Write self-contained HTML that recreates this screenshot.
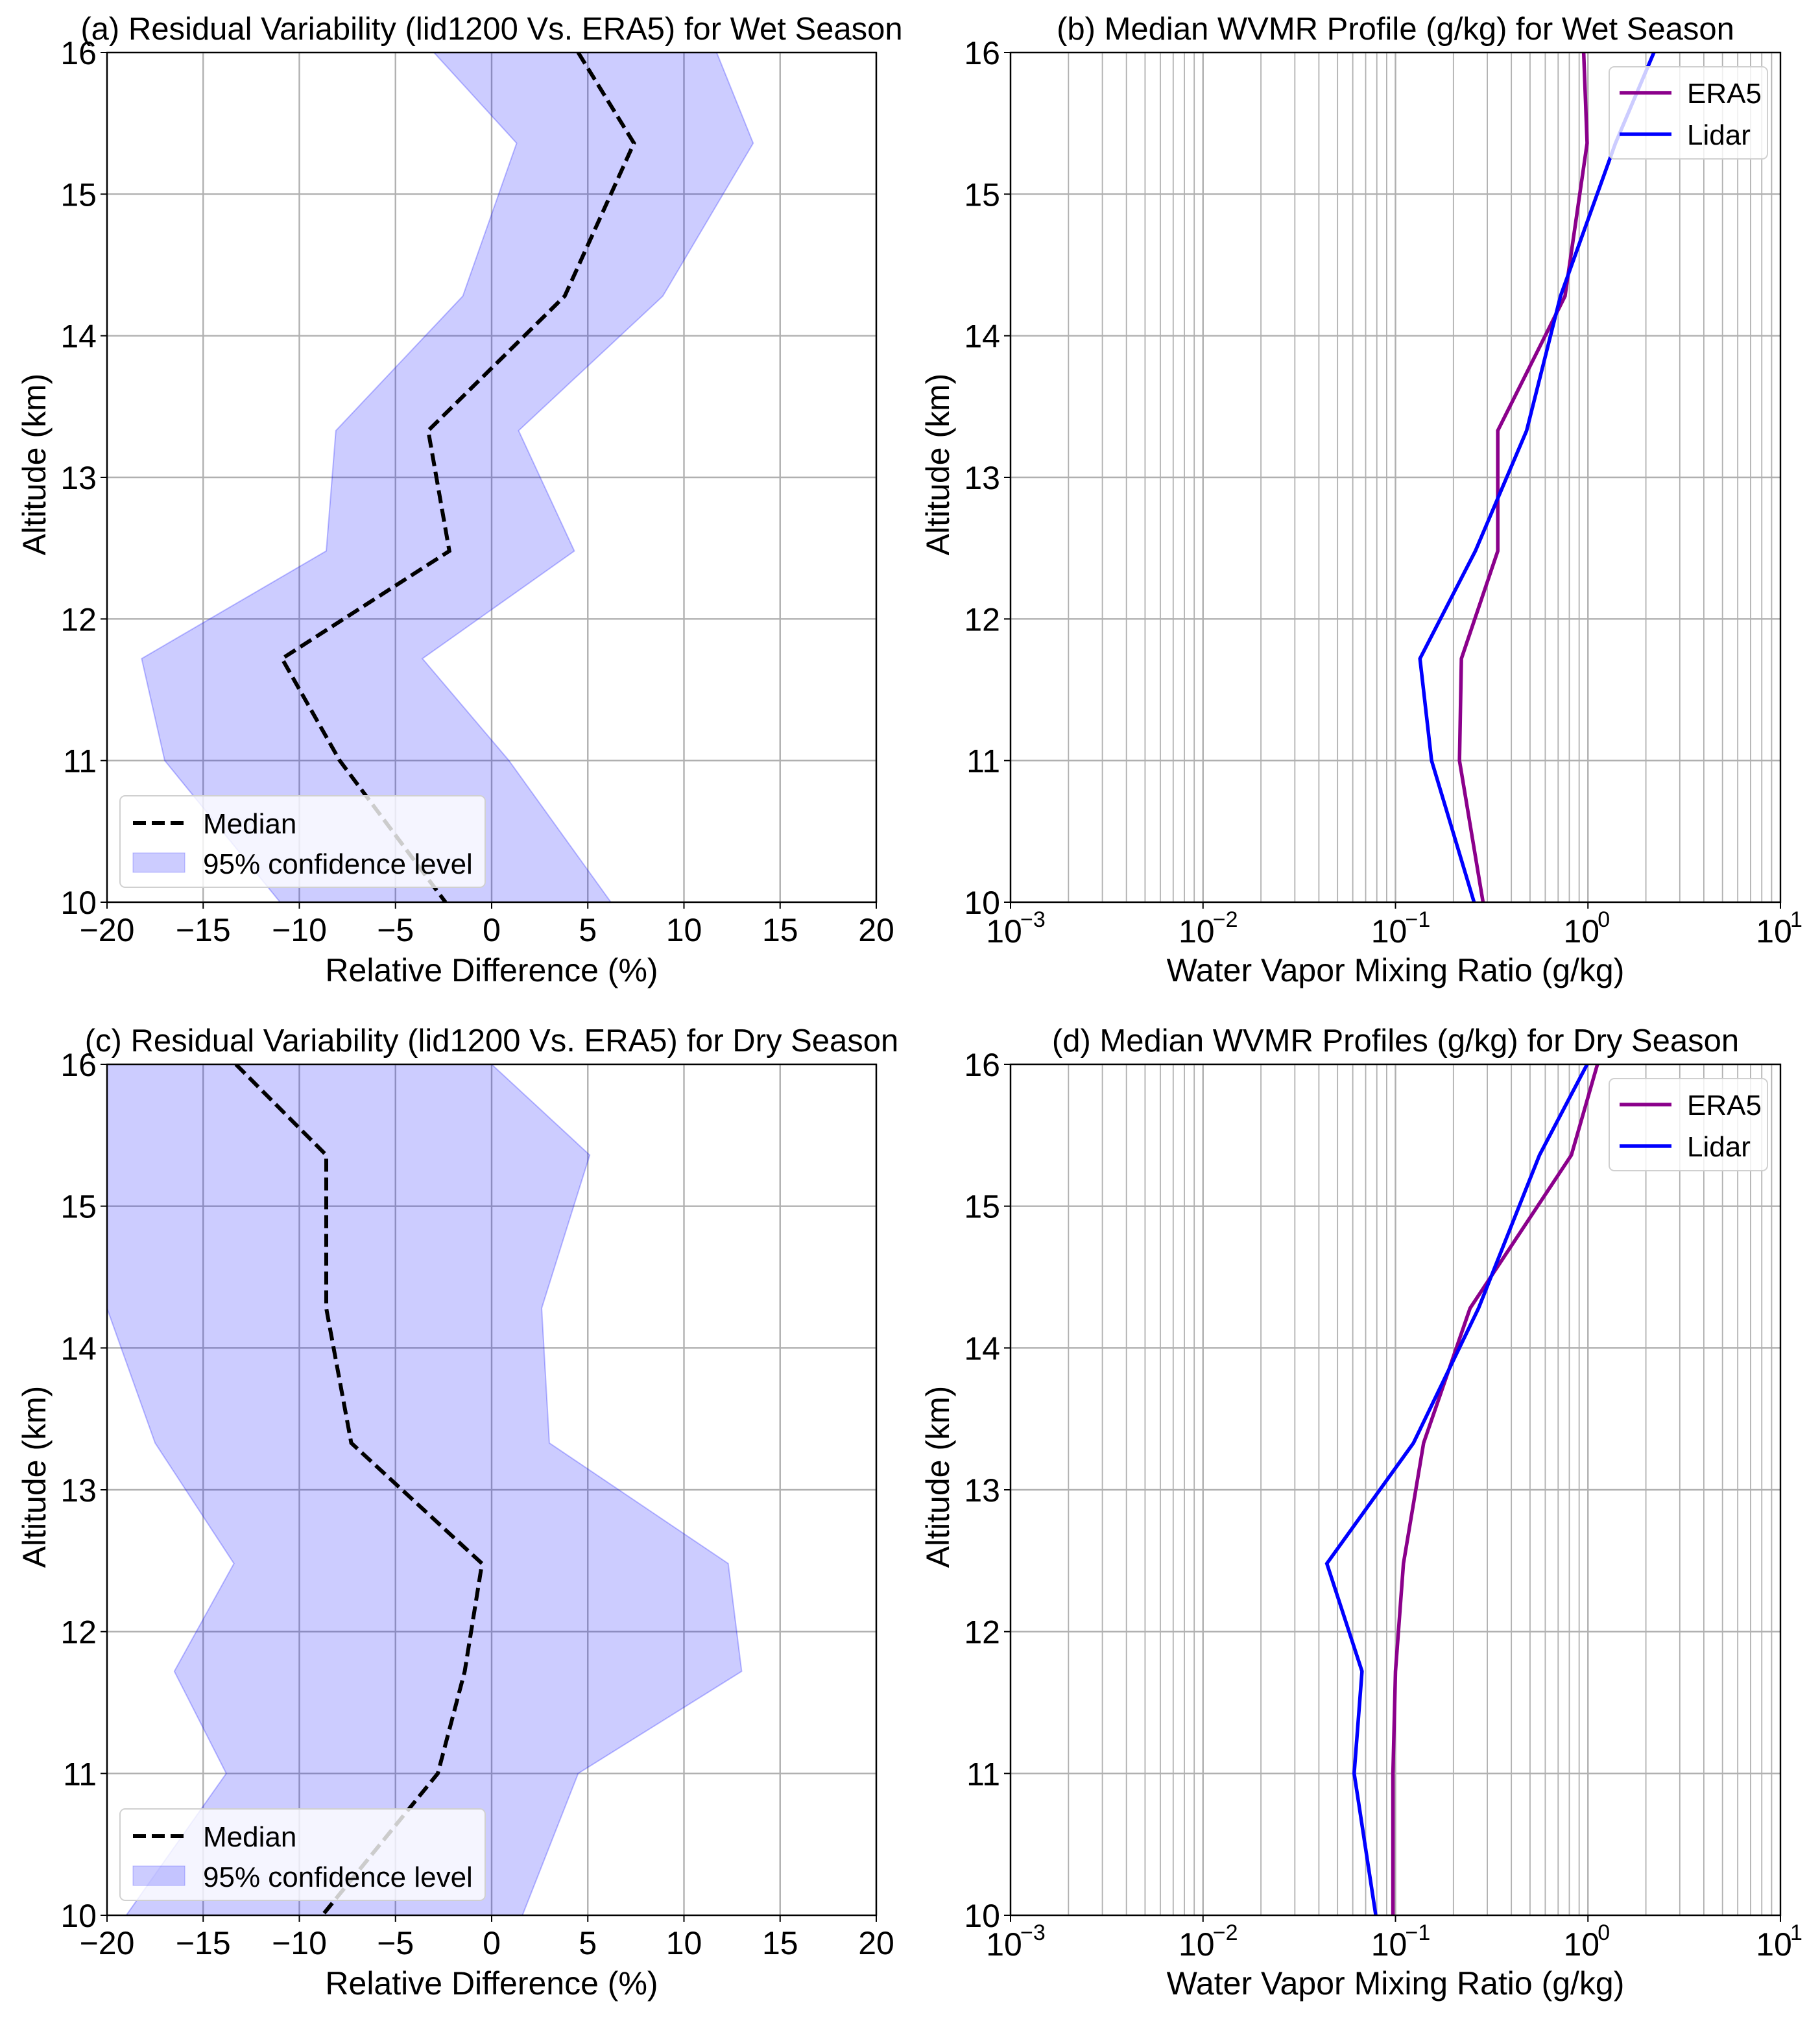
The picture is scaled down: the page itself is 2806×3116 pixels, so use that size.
<!DOCTYPE html>
<html><head><meta charset="utf-8">
<style>
html,body{margin:0;padding:0;background:#fff;}
svg{display:block;font-family:"Liberation Sans","DejaVu Sans",sans-serif;}
</style></head>
<body>
<svg id="fig" width="2806" height="3116" viewBox="0 0 2806 3116" xmlns="http://www.w3.org/2000/svg"></svg>
<script>
// Altitude levels (km)
const altA = [16, 15.36, 14.28, 13.33, 12.48, 11.72, 11.0, 10];
// Panel (a) wet season residual variability (%)
const medA = [4.5, 7.4, 3.8, -3.3, -2.2, -10.9, -7.9, -2.4];
const lowA = [-3.0, 1.3, -1.5, -8.1, -8.6, -18.2, -17.0, -11.0];
const upA  = [11.7, 13.6, 8.9, 1.4, 4.3, -3.6, 0.9, 6.2];
// Panel (c) dry season residual variability (%)
const medC = [-13.3, -8.6, -8.6, -7.3, -0.5, -1.4, -2.8, -8.8];
const lowC = [-20, -20, -20, -17.5, -13.4, -16.5, -13.8, -19.0];
const upC  = [0.0, 5.1, 2.6, 3.0, 12.3, 13.0, 4.5, 1.6];
// Panel (b) wet season WVMR (g/kg)
const eraB = [0.95, 0.99, 0.76, 0.34, 0.34, 0.22, 0.215, 0.285];
const lidB = [2.2, 1.39, 0.72, 0.48, 0.26, 0.134, 0.154, 0.256];
// Panel (d) dry season WVMR (g/kg)
const eraD = [1.12, 0.82, 0.244, 0.14, 0.11, 0.10, 0.097, 0.097];
const lidD = [0.99, 0.56, 0.27, 0.124, 0.044, 0.067, 0.061, 0.079];
// tick labels
const linTicks = [-20, -15, -10, -5, 0, 5, 10, 15, 20];
const altTicks = [10, 11, 12, 13, 14, 15, 16];
const logTicks = [-3, -2, -1, 0, 1];

const NS = "http://www.w3.org/2000/svg";
const fig = document.getElementById('fig');
function el(tag, attrs, parent, text){
  const e = document.createElementNS(NS, tag);
  for (const k in attrs) e.setAttribute(k, attrs[k]);
  if (text !== undefined) e.textContent = text;
  (parent || fig).appendChild(e);
  return e;
}
const FS = 50;
let clipId = 0;

function panel(o){
  const g = el('g', {});
  
  
  const L=o.x0, R=o.x1, T=o.y0, B=o.y1;
  const cid = 'clip'+(clipId++);
  const cp = el('clipPath',{id:cid},g);
  el('rect',{x:L,y:T,width:R-L,height:B-T},cp);
  const sy = v => B - (v-10)/6*(B-T);
  const sx = o.log ? (v => L + (Math.log10(v)+3)/4*(R-L)) : (v => L + (v+20)/40*(R-L));
  if (o.log){
    for (let d=-3; d<1; d++) for (let m=1; m<10; m++){
      const x = L + (d+3+Math.log10(m))/4*(R-L);
      const gl = el('line', {x1:x,x2:x,y1:T,y2:B,stroke:'#b0b0b0','stroke-width':m==1?2.4:1.8}, g);
      
      
    }
  } else {
    linTicks.forEach(t=>{
      const x = sx(t);
      const gl = el('line', {x1:x,x2:x,y1:T,y2:B,stroke:'#b0b0b0','stroke-width':2.4}, g);
      
      
    });
  }
  altTicks.forEach(t=>{
    const y = sy(t);
    const gl = el('line', {x1:L,x2:R,y1:y,y2:y,stroke:'#b0b0b0','stroke-width':2.4}, g);
    
    
    el('line',{x1:L-10,x2:L,y1:y,y2:y,stroke:'#000','stroke-width':2},g);
    const tl = el('text',{x:L-16,y:y+18,'text-anchor':'end','font-size':FS},g,String(t));
    
    
  });
  if (o.log){
    logTicks.forEach(t=>{
      const x = L + (t+3)/4*(R-L);
      el('line',{x1:x,x2:x,y1:B,y2:B+10,stroke:'#000','stroke-width':2},g);
      const tl = el('text',{x:x-10,y:B+62,'text-anchor':'middle','font-size':FS},g,'10');
      
      
      el('text',{x:x+15,y:B+38,'text-anchor':'start','font-size':34},g, t<0?'\u2212'+(-t):String(t));
    });
  } else {
    linTicks.forEach(t=>{
      const x = sx(t);
      el('line',{x1:x,x2:x,y1:B,y2:B+10,stroke:'#000','stroke-width':2},g);
      const tl = el('text',{x:x,y:B+60,'text-anchor':'middle','font-size':FS},g, t<0?'\u2212'+(-t):String(t));
      
      
    });
  }
  const data = el('g',{'clip-path':`url(#${cid})`},g);
  if (!o.log){
    let pts = o.up.map((v,i)=>sx(v)+','+sy(altA[i]));
    pts = pts.concat(o.low.map((v,i)=>sx(v)+','+sy(altA[i])).reverse());
    const band = el('polygon',{points:pts.join(' '),fill:'#0000ff','fill-opacity':0.2,stroke:'#0000ff','stroke-opacity':0.25,'stroke-width':2},data);
    
    
    const med = el('polyline',{points:o.med.map((v,i)=>sx(v)+','+sy(altA[i])).join(' '),fill:'none',stroke:'#000','stroke-width':6,'stroke-dasharray':'20,9'},data);
    
    
  } else {
    const era = el('polyline',{points:o.era.map((v,i)=>sx(v)+','+sy(altA[i])).join(' '),fill:'none',stroke:'#8b008b','stroke-width':5.5},data);
    
    
    const lid = el('polyline',{points:o.lid.map((v,i)=>sx(v)+','+sy(altA[i])).join(' '),fill:'none',stroke:'#0000ff','stroke-width':5.5},data);
    
    
  }
  const fr = el('rect',{x:L,y:T,width:R-L,height:B-T,fill:'none',stroke:'#000','stroke-width':2.4},g);
  
  
  const ti = el('text',{x:(L+R)/2,y:T-20,'text-anchor':'middle','font-size':49},g,o.title);
  
  
  const xl = el('text',{x:(L+R)/2,y:B+122,'text-anchor':'middle','font-size':FS},g,o.xlabel);
  
  
  const yx = L-95, yy=(T+B)/2 - 20;
  const yl = el('text',{x:yx,y:yy,'text-anchor':'middle','font-size':FS,transform:`rotate(-90 ${yx} ${yy})`},g,'Altitude (km)');
  
  
  if (!o.log){
    const lg = el('g',{},g);
    
    
    const lx=L+20, ly=B-164;
    el('rect',{x:lx,y:ly,width:563,height:141,rx:8,fill:'#fff','fill-opacity':0.8,stroke:'#d0d0d0','stroke-width':2},lg);
    el('line',{x1:lx+20,x2:lx+100,y1:ly+42,y2:ly+42,stroke:'#000','stroke-width':6,'stroke-dasharray':'20,9'},lg);
    const t1=el('text',{x:lx+128,y:ly+58,'font-size':44},lg,'Median');
    
    
    el('rect',{x:lx+20,y:ly+88,width:80,height:30,fill:'#0000ff','fill-opacity':0.2,stroke:'#0000ff','stroke-opacity':0.25},lg);
    const t2=el('text',{x:lx+128,y:ly+120,'font-size':44},lg,'95% confidence level');
    
    
  } else {
    const lg = el('g',{},g);
    
    
    const lx=R-264, ly=T+22;
    el('rect',{x:lx,y:ly,width:244,height:142,rx:8,fill:'#fff','fill-opacity':0.8,stroke:'#d0d0d0','stroke-width':2},lg);
    el('line',{x1:lx+16,x2:lx+96,y1:ly+40,y2:ly+40,stroke:'#8b008b','stroke-width':5.5},lg);
    const t1=el('text',{x:lx+120,y:ly+56,'font-size':44},lg,'ERA5');
    
    
    el('line',{x1:lx+16,x2:lx+96,y1:ly+104,y2:ly+104,stroke:'#0000ff','stroke-width':5.5},lg);
    const t2=el('text',{x:lx+120,y:ly+120,'font-size':44},lg,'Lidar');
    
    
  }
}
panel({name:'panel-a',x0:165,x1:1351,y0:81,y1:1391,log:false,med:medA,low:lowA,up:upA,
  title:'(a) Residual Variability (lid1200 Vs. ERA5) for Wet Season',xlabel:'Relative Difference (%)'});
panel({name:'panel-b',x0:1558,x1:2745,y0:81,y1:1391,log:true,era:eraB,lid:lidB,
  title:'(b) Median WVMR Profile (g/kg) for Wet Season',xlabel:'Water Vapor Mixing Ratio (g/kg)'});
panel({name:'panel-c',x0:165,x1:1351,y0:1641,y1:2953,log:false,med:medC,low:lowC,up:upC,
  title:'(c) Residual Variability (lid1200 Vs. ERA5) for Dry Season',xlabel:'Relative Difference (%)'});
panel({name:'panel-d',x0:1558,x1:2745,y0:1641,y1:2953,log:true,era:eraD,lid:lidD,
  title:'(d) Median WVMR Profiles (g/kg) for Dry Season',xlabel:'Water Vapor Mixing Ratio (g/kg)'});
</script>
</body></html>
